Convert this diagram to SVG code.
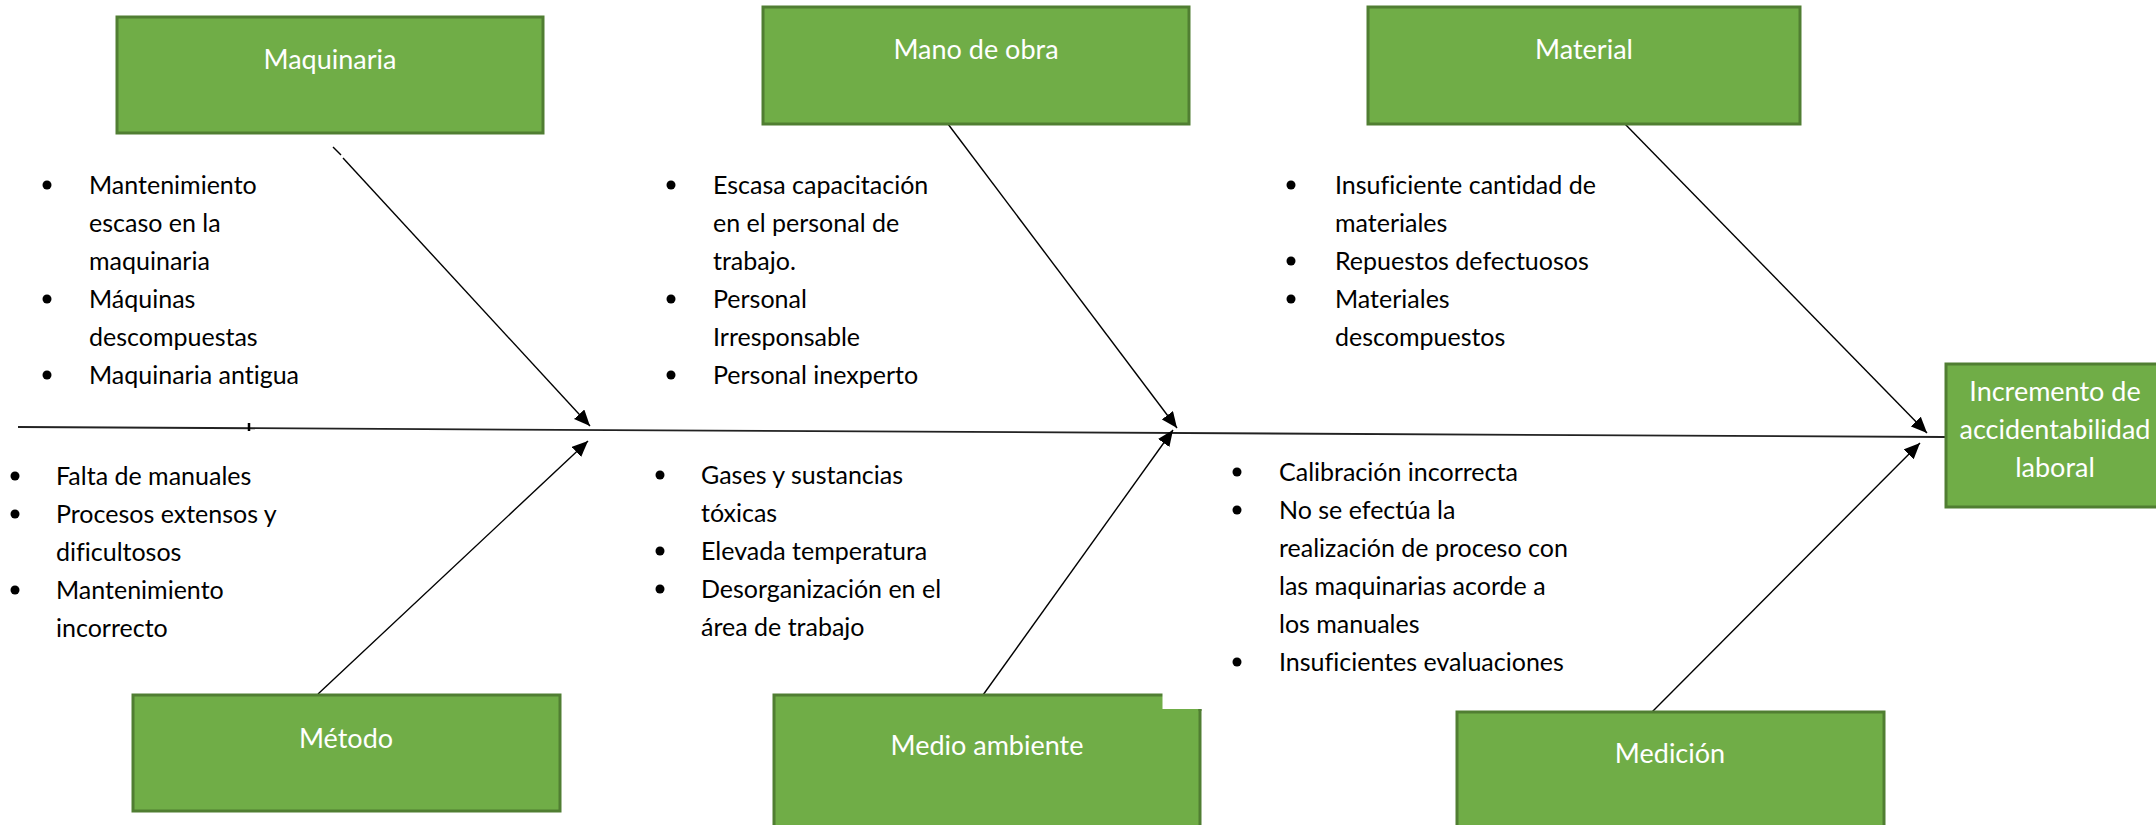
<svg xmlns="http://www.w3.org/2000/svg" width="2156" height="825" viewBox="0 0 2156 825">
<style>
.box{fill:#70AD47;stroke:#507E32;stroke-width:3}
.lbl{font-family:Lato,"Liberation Sans",sans-serif;font-size:27px;fill:#ffffff;text-anchor:middle;font-variant-ligatures:none}
.txt{font-family:Lato,"Liberation Sans",sans-serif;font-size:25px;fill:#000000;font-variant-ligatures:none}
.blt{fill:#000000}
.ln{stroke:#000000;stroke-width:1.4;fill:none}
.arr{stroke:#000000;stroke-width:1.4;fill:none;marker-end:url(#ah)}
</style>
<defs>
<marker id="ah" markerUnits="userSpaceOnUse" markerWidth="18" markerHeight="14" refX="16" refY="7" orient="auto">
<path d="M0,0 L16,7 L0,14 Z" fill="#000000"/>
</marker>
</defs>
<rect width="2156" height="825" fill="#ffffff"/>

<g id="connectors">
<line class="ln" x1="18" y1="427" x2="1945" y2="437" style="stroke:#222;stroke-width:1.8"/>
<line class="ln" x1="249" y1="423" x2="249" y2="431" style="stroke-width:2.5"/>
<line class="ln" x1="333" y1="147" x2="341" y2="155"/>
<line class="arr" x1="343" y1="158" x2="590" y2="426"/>
<line class="arr" x1="948" y1="124" x2="1177" y2="428"/>
<line class="arr" x1="1625" y1="124" x2="1927" y2="433"/>
<line class="arr" x1="318" y1="694" x2="588" y2="441"/>
<line class="arr" x1="983" y1="695" x2="1173" y2="430"/>
<line class="arr" x1="1652" y1="712" x2="1920" y2="443"/>
</g>

<g id="maquinaria">
<rect class="box" x="117" y="17" width="426" height="116"/>
<text class="lbl" x="330" y="69">Maquinaria</text>
</g>
<g id="mano-de-obra">
<rect class="box" x="763" y="7" width="426" height="117"/>
<text class="lbl" x="976" y="59">Mano de obra</text>
</g>
<g id="material">
<rect class="box" x="1368" y="7" width="432" height="117"/>
<text class="lbl" x="1584" y="59">Material</text>
</g>
<g id="incremento">
<rect class="box" x="1946" y="364" width="214" height="143"/>
<text class="lbl" x="2055" y="401">Incremento de</text>
<text class="lbl" x="2055" y="439">accidentabilidad</text>
<text class="lbl" x="2055" y="477">laboral</text>
</g>
<g id="metodo">
<rect class="box" x="133" y="695" width="427" height="116"/>
<text class="lbl" x="346" y="748">Método</text>
</g>
<g id="medio-ambiente">
<rect class="box" x="774" y="695" width="426" height="134"/>
<rect x="1162.5" y="690" width="42" height="19" fill="#ffffff"/>
<line x1="1200" y1="709" x2="1200" y2="711" stroke="#507E32" stroke-width="3"/>
<text class="lbl" x="987" y="755">Medio ambiente</text>
</g>
<g id="medicion">
<rect class="box" x="1457" y="712" width="427" height="117"/>
<text class="lbl" x="1670" y="763">Medición</text>
</g>

<g id="list-maquinaria">
<circle class="blt" cx="47" cy="185" r="4.5"/>
<circle class="blt" cx="47" cy="299" r="4.5"/>
<circle class="blt" cx="47" cy="375" r="4.5"/>
<text class="txt" x="89" y="194">Mantenimiento</text>
<text class="txt" x="89" y="232">escaso en la</text>
<text class="txt" x="89" y="270">maquinaria</text>
<text class="txt" x="89" y="308">Máquinas</text>
<text class="txt" x="89" y="346">descompuestas</text>
<text class="txt" x="89" y="384">Maquinaria antigua</text>
</g>
<g id="list-mano-de-obra">
<circle class="blt" cx="671" cy="185" r="4.5"/>
<circle class="blt" cx="671" cy="299" r="4.5"/>
<circle class="blt" cx="671" cy="375" r="4.5"/>
<text class="txt" x="713" y="194">Escasa capacitación</text>
<text class="txt" x="713" y="232">en el personal de</text>
<text class="txt" x="713" y="270">trabajo.</text>
<text class="txt" x="713" y="308">Personal</text>
<text class="txt" x="713" y="346">Irresponsable</text>
<text class="txt" x="713" y="384">Personal inexperto</text>
</g>
<g id="list-material">
<circle class="blt" cx="1291" cy="185" r="4.5"/>
<circle class="blt" cx="1291" cy="261" r="4.5"/>
<circle class="blt" cx="1291" cy="299" r="4.5"/>
<text class="txt" x="1335" y="194">Insuficiente cantidad de</text>
<text class="txt" x="1335" y="232">materiales</text>
<text class="txt" x="1335" y="270">Repuestos defectuosos</text>
<text class="txt" x="1335" y="308">Materiales</text>
<text class="txt" x="1335" y="346">descompuestos</text>
</g>
<g id="list-metodo">
<circle class="blt" cx="15" cy="476" r="4.5"/>
<circle class="blt" cx="15" cy="514" r="4.5"/>
<circle class="blt" cx="15" cy="590" r="4.5"/>
<text class="txt" x="56" y="485">Falta de manuales</text>
<text class="txt" x="56" y="523">Procesos extensos y</text>
<text class="txt" x="56" y="561">dificultosos</text>
<text class="txt" x="56" y="599">Mantenimiento</text>
<text class="txt" x="56" y="637">incorrecto</text>
</g>
<g id="list-medio-ambiente">
<circle class="blt" cx="660" cy="475" r="4.5"/>
<circle class="blt" cx="660" cy="551" r="4.5"/>
<circle class="blt" cx="660" cy="589" r="4.5"/>
<text class="txt" x="701" y="484">Gases y sustancias</text>
<text class="txt" x="701" y="522">tóxicas</text>
<text class="txt" x="701" y="560">Elevada temperatura</text>
<text class="txt" x="701" y="598">Desorganización en el</text>
<text class="txt" x="701" y="636">área de trabajo</text>
</g>
<g id="list-medicion">
<circle class="blt" cx="1237" cy="472" r="4.5"/>
<circle class="blt" cx="1237" cy="510" r="4.5"/>
<circle class="blt" cx="1237" cy="662" r="4.5"/>
<text class="txt" x="1279" y="481">Calibración incorrecta</text>
<text class="txt" x="1279" y="519">No se efectúa la</text>
<text class="txt" x="1279" y="557">realización de proceso con</text>
<text class="txt" x="1279" y="595">las maquinarias acorde a</text>
<text class="txt" x="1279" y="633">los manuales</text>
<text class="txt" x="1279" y="671">Insuficientes evaluaciones</text>
</g>
</svg>
